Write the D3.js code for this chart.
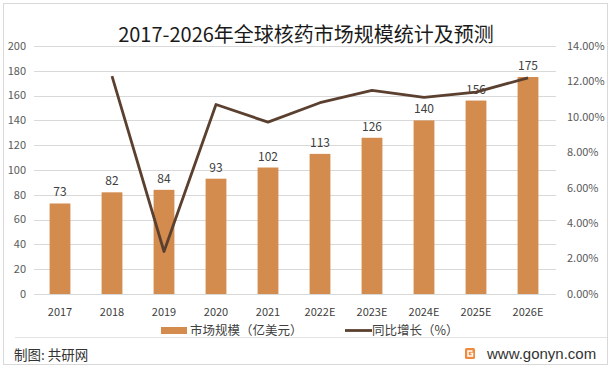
<!DOCTYPE html>
<html>
<head>
<meta charset="utf-8">
<script src="https://cdn.jsdelivr.net/npm/d3@7"></script>
<style>
  body { margin: 0; background: #fff; }
  text { font-family: "Noto Sans CJK SC", "Noto Sans", sans-serif; }
</style>
</head>
<body>
<div id="vis"></div>
<script>
var width  = 611;
var height = 370;

var years   = ["2017", "2018", "2019", "2020", "2021", "2022E", "2023E", "2024E", "2025E", "2026E"];
var market  = [73, 82, 84, 93, 102, 113, 126, 140, 156, 175];
var growth  = [null, 12.3, 2.4, 10.7, 9.7, 10.8, 11.5, 11.1, 11.4, 12.2];
var leftTicks  = [0, 20, 40, 60, 80, 100, 120, 140, 160, 180, 200];
var rightTicks = [0, 2, 4, 6, 8, 10, 12, 14];

var barColor  = "#d38b4e";
var lineColor = "#5b4030";

var x = d3.scaleBand().domain(years).range([34, 554]).paddingInner(0.6).paddingOuter(0.3);
var y = d3.scaleLinear().domain([0, 200]).range([294, 46]);
var y2 = d3.scaleLinear().domain([0, 14]).range([294, 46]);

var svg = d3.select("#vis").append("svg")
  .attr("width", width)
  .attr("height", height);

// frame
svg.append("rect")
  .attr("x", 3.5).attr("y", 3.5)
  .attr("width", 604).attr("height", 361)
  .attr("fill", "none").attr("stroke", "#d9d9d9");

svg.append("line")
  .attr("x1", 15).attr("x2", 607)
  .attr("y1", 337.5).attr("y2", 337.5)
  .attr("stroke", "#e3e3e3");

// title
svg.append("text")
  .attr("x", 306).attr("y", 42)
  .attr("text-anchor", "middle")
  .style("font-size", "20px")
  .style("fill", "#1a1a1a")
  .text("2017-2026年全球核药市场规模统计及预测");

// gridlines
svg.append("g").selectAll("line")
  .data(leftTicks)
  .enter().append("line")
  .attr("x1", 34).attr("x2", 556)
  .attr("y1", function(d) { return Math.round(y(d)) + 0.5; })
  .attr("y2", function(d) { return Math.round(y(d)) + 0.5; })
  .attr("stroke", "#d9d9d9");

// left axis labels
svg.append("g").selectAll("text")
  .data(leftTicks)
  .enter().append("text")
  .attr("x", 26)
  .attr("y", function(d) { return y(d); })
  .attr("dy", "0.35em")
  .attr("text-anchor", "end")
  .style("font-size", "11px")
  .style("fill", "#595959")
  .text(function(d) { return d; });

// right axis labels
svg.append("g").selectAll("text")
  .data(rightTicks)
  .enter().append("text")
  .attr("x", 567)
  .attr("y", function(d) { return y2(d); })
  .attr("dy", "0.35em")
  .style("font-size", "11px")
  .style("fill", "#595959")
  .text(function(d) { return d.toFixed(2) + "%"; });

// x labels
svg.append("g").selectAll("text")
  .data(years)
  .enter().append("text")
  .attr("x", function(d) { return x(d) + x.bandwidth() / 2; })
  .attr("y", 312)
  .attr("dy", "0.35em")
  .attr("text-anchor", "middle")
  .style("font-size", "11px")
  .style("fill", "#404040")
  .text(function(d) { return d; });

// bars
svg.append("g").selectAll("rect")
  .data(market)
  .enter().append("rect")
  .attr("x", function(d, i) { return x(years[i]); })
  .attr("y", function(d) { return y(d); })
  .attr("width", x.bandwidth())
  .attr("height", function(d) { return y(0) - y(d); })
  .attr("fill", barColor);

// bar labels
svg.append("g").selectAll("text")
  .data(market)
  .enter().append("text")
  .attr("x", function(d, i) { return x(years[i]) + x.bandwidth() / 2; })
  .attr("y", function(d) { return y(d) - 7; })
  .attr("text-anchor", "middle")
  .style("font-size", "12px")
  .style("fill", "#404040")
  .text(function(d) { return d; });

// growth line
var line = d3.line()
  .defined(function(d) { return d != null; })
  .x(function(d, i) { return x(years[i]) + x.bandwidth() / 2; })
  .y(function(d) { return y2(d); });

svg.append("path")
  .datum(growth)
  .attr("d", line)
  .attr("fill", "none")
  .attr("stroke", lineColor)
  .attr("stroke-width", 2.8)
  .attr("stroke-linejoin", "round");

// legend
svg.append("rect")
  .attr("x", 161).attr("y", 327)
  .attr("width", 26).attr("height", 7)
  .attr("fill", barColor);
svg.append("text")
  .attr("x", 190).attr("y", 331)
  .attr("dy", "0.35em")
  .style("font-size", "12.5px")
  .style("fill", "#404040")
  .text("市场规模（亿美元）");

svg.append("line")
  .attr("x1", 345).attr("x2", 372)
  .attr("y1", 330.5).attr("y2", 330.5)
  .attr("stroke", lineColor)
  .attr("stroke-width", 2.8);
svg.append("text")
  .attr("x", 372).attr("y", 331)
  .attr("dy", "0.35em")
  .style("font-size", "12.5px")
  .style("fill", "#404040")
  .text("同比增长（%）");

// footer
svg.append("text")
  .attr("x", 14).attr("y", 355)
  .attr("dy", "0.35em")
  .style("font-size", "13.5px")
  .style("fill", "#333")
  .text("制图: 共研网");

var logo = svg.append("g").attr("transform", "translate(465,348)");
logo.append("rect")
  .attr("width", 10).attr("height", 11).attr("rx", 1.5)
  .attr("fill", "#f08a3c");
logo.append("path")
  .attr("d", "M7.5,3 H3 V8 H7.5 V5.5 H5.5")
  .attr("fill", "none").attr("stroke", "#fff").attr("stroke-width", 1.5);

svg.append("text")
  .attr("x", 487).attr("y", 354)
  .attr("dy", "0.35em")
  .style("font-family", "'Liberation Sans', Arial, sans-serif")
  .style("font-size", "15px")
  .style("fill", "#333")
  .text("www.gonyn.com");
</script>
</body>
</html>
